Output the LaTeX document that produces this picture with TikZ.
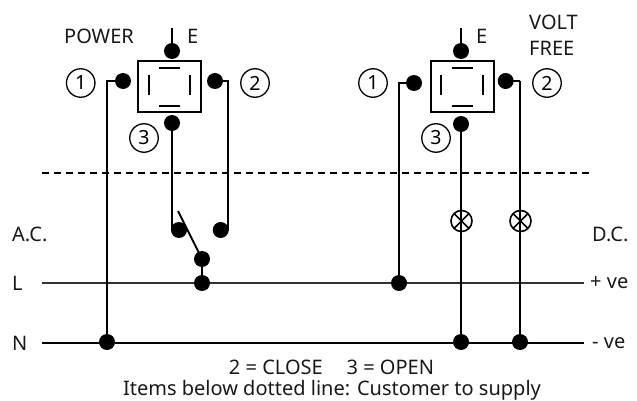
\documentclass[tikz,border=0pt]{standalone}
\usepackage{fontspec}
\setmainfont{Noto Sans}
\begin{document}
\begin{tikzpicture}[x=1pt,y=-1pt,
  wire/.style={line width=1.8pt,black},
  heavy/.style={line width=2.2pt,black},
  rail/.style={line width=1.7pt,black!80},
  dot/.style={circle,fill=black,inner sep=0pt,minimum size=16pt},
  lamp/.style={circle,draw=black,line width=1.6pt,inner sep=0pt,minimum size=21pt,fill=white,path picture={
     \draw[line width=1.6pt] (path picture bounding box.north west)--(path picture bounding box.south east)
       (path picture bounding box.north east)--(path picture bounding box.south west);}},
  num/.style={circle,draw=black,line width=1.3pt,inner sep=0pt,minimum size=28.5pt,font=\fontsize{19.5}{20}\selectfont},
  lab/.style={inner sep=0pt,font=\fontsize{20}{22}\selectfont,text=black!90},
  relay/.style={draw=black,line width=1.7pt,inner sep=0pt,minimum width=63pt,minimum height=51.5pt},
  bar/.style={line width=1.7pt,black}]
\useasboundingbox (0,0) rectangle (637,401);
% coordinates
\coordinate (LL) at (42,283); \coordinate (LR) at (584,283);
\coordinate (NL) at (42,343); \coordinate (NR) at (584,343);
\coordinate (DL) at (42,173); \coordinate (DR) at (590,173);
\coordinate (E1) at (172,28); \coordinate (E2) at (461,28);
\coordinate (a1) at (107,81); \coordinate (a2) at (228,81);
\coordinate (b1) at (399,83); \coordinate (b2) at (520,81);
\coordinate (swtip) at (178,211);
% rails
\draw[rail] (LL) -- (LR);
\draw[heavy] (NL) -- (NR);
\draw[line width=1.7pt,dash pattern=on 7pt off 5pt] (DL) -- (DR);
% relays
\node[relay] (box1) at (169.5,86.5) {};
\node[relay] (box2) at (462.3,86.5) {};
% dots
\node[dot] (e1) at (172,51) {};
\node[dot] (p1) at (123,81) {};
\node[dot] (p2) at (215,81) {};
\node[dot] (p3) at (172,123) {};
\node[dot] (e2) at (461,51) {};
\node[dot] (q1) at (414,83) {};
\node[dot] (q2) at (505.7,81) {};
\node[dot] (q3) at (461,124) {};
\node[dot] (s1) at (179,230) {};
\node[dot] (s2) at (220.7,230) {};
\node[dot] (s3) at (202,259) {};
\node[dot] (s4) at (202,283) {};
\node[dot] (n1) at (107,342) {};
\node[dot] (l2) at (399,283) {};
\node[dot] (n2) at (461,342) {};
\node[dot] (n3) at (520,342) {};
% lamps
\node[lamp] (m1) at (461.5,221) {};
\node[lamp] (m2) at (520.5,221) {};
\draw[wire] (q3.center) -- (n2.center);
\draw[wire] (b2) -- (n3.center);
% wires
\draw[wire] (E1) -- (e1.center);
\draw[wire] (E2) -- (e2.center);
\draw[wire] (p1.center) -- (a1) -- (n1.center);
\draw[wire] (p2.center) -- (a2) -- (a2 |- s2) -- (s2.center);
\draw[wire] (p3.center) -- (p3 |- s1) -- (s1.center);
\draw[wire] (swtip) -- (s3.center);
\draw[wire] (s3.center) -- (s4.center);
\draw[wire] (q1.center) -- (b1) -- (l2.center);
\draw[wire] (q2.center) -- (b2);
% bars
\draw[bar] (159,67.7) -- (180,67.7) (159,105.7) -- (180,105.7) (149,75) -- (149,95) (190,75) -- (190,95);
\draw[bar] (452,67.7) -- (472.6,67.7) (452,105.7) -- (472.6,105.7) (441.3,75) -- (441.3,95) (483,75) -- (483,95);
% numbers
\node[num] (c1) at (80.7,83) {1};
\node[num] (c2) at (255,83) {2};
\node[num] (c3) at (144,138) {3};
\node[num] (d1) at (373,83) {1};
\node[num] (d2) at (547,83) {2};
\node[num] (d3) at (436,138) {3};
% text
\node[lab,anchor=west] (t1) at (64,36) {POWER};
\node[lab,anchor=west] (t2) at (187,36) {E};
\node[lab,anchor=west] (t3) at (476,36) {E};
\node[lab,anchor=west] (t4) at (529,22.5) {VOLT};
\node[lab,anchor=west] (t5) at (529,48) {FREE};
\node[lab,anchor=west] (t6) at (12,234) {A.C.};
\node[lab,anchor=west] (t7) at (592,234) {D.C.};
\node[lab,anchor=west] (t8) at (12,283) {L};
\node[lab,anchor=west] (t9) at (12,343) {N};
\node[lab,anchor=west] (t10) at (590,283) {+ ve};
\node[lab,anchor=west] (t11) at (592,343) {- ve};
\node[lab] (t12) at (331.5,367) {2 = CLOSE\hspace{1.2em}3 = OPEN};
\node[lab] (t13) at (332,390.5) {Items below dotted line: Customer to supply};
\end{tikzpicture}
\end{document}
